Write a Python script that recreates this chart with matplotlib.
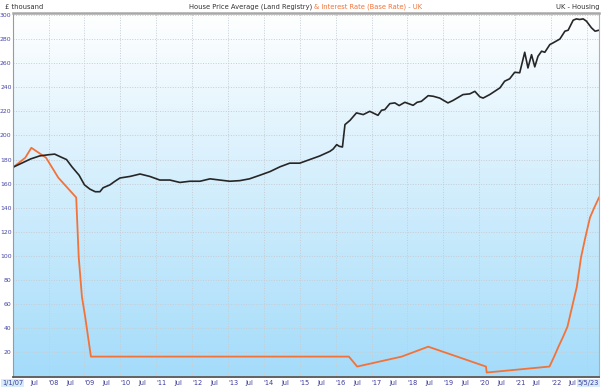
import matplotlib
matplotlib.use("Agg")
import matplotlib.pyplot as plt
import numpy as np
from matplotlib.colors import LinearSegmentedColormap

# ----------------------------------------------------------
# DATA (years as decimal years)
# ----------------------------------------------------------

house_years = [
    2007.00, 2007.25, 2007.50, 2007.75, 2008.00, 2008.17, 2008.35, 2008.50,
    2008.65, 2008.85, 2009.00, 2009.15, 2009.30, 2009.43, 2009.52, 2009.71,
    2009.85, 2009.99, 2010.27, 2010.55, 2010.82, 2011.10, 2011.38, 2011.66,
    2011.94, 2012.22, 2012.50, 2012.77, 2013.05, 2013.33, 2013.60, 2013.89,
    2014.17, 2014.45, 2014.72, 2015.00, 2015.28, 2015.56, 2015.84, 2015.93,
    2016.03, 2016.10, 2016.19, 2016.26, 2016.40, 2016.58, 2016.77, 2016.95,
    2017.18, 2017.28, 2017.37, 2017.51, 2017.65, 2017.77, 2017.93, 2018.16,
    2018.27, 2018.39, 2018.58, 2018.72, 2018.90, 2019.13, 2019.27, 2019.55,
    2019.74, 2019.88, 2020.02, 2020.11, 2020.30, 2020.58, 2020.71, 2020.85,
    2020.99, 2021.13, 2021.27, 2021.36, 2021.46, 2021.55, 2021.64, 2021.74,
    2021.83, 2021.97, 2022.06, 2022.25, 2022.39, 2022.48, 2022.62, 2022.71,
    2022.80, 2022.90, 2022.99, 2023.13, 2023.23, 2023.34,
]
house_price = [
    173.5, 177, 180.5, 183, 184, 184.5, 182, 180,
    174, 167, 159, 155.5, 153.3, 153.3, 156.6, 159,
    162, 164.7, 166, 168, 166, 163, 163, 161,
    162, 162, 164, 163, 162, 162.5, 164, 167,
    170, 174, 177, 177, 180, 183, 186.8, 188.7,
    192.4, 191, 190.4, 209, 212.5, 218.7, 217.3, 220,
    216.7, 220.9, 221.4, 226.4, 227, 224.8, 227.5, 225,
    227.5, 228.3, 233, 232.5, 231, 227, 229, 233.9,
    234.5, 236.6, 232, 231, 234, 239.5, 245, 247,
    252.4, 252, 269, 256, 267, 256.9, 265.7, 269.9,
    269, 275.4, 276.8, 280, 286.5, 287.3, 295.6, 296.7,
    296.2, 296.7, 294.8, 289.3, 286.5, 287.3,
]

rate_years = [
    2007.00, 2007.35, 2007.52, 2007.93, 2008.10, 2008.27, 2008.77, 2008.84,
    2008.93, 2009.02, 2009.10, 2009.18, 2016.37, 2016.60, 2017.84, 2018.58,
    2020.19, 2020.21, 2021.96, 2022.09, 2022.21, 2022.34, 2022.46, 2022.59,
    2022.72, 2022.84, 2022.96, 2023.09, 2023.21, 2023.34,
]
rate_plotted = [
    173.25, 181.5, 189.75, 181.5, 173.25, 165, 148.5, 99,
    66, 49.5, 33, 16.5, 16.5, 8.25, 16.5, 24.75,
    8.25, 3.3, 8.25, 16.5, 24.75, 33, 41.25, 57.75,
    74.25, 99, 115.5, 132, 140.25, 148.5,
]

x_start, x_end = 2007.0, 2023.34
y_ticks = list(range(20, 301, 20))

x_tick_pos = [2007.0]
x_tick_lab = ["1/1/07"]
for yr in range(2007, 2023):
    if yr > 2007:
        x_tick_pos.append(yr)
        x_tick_lab.append("'" + str(yr)[2:])
    x_tick_pos.append(yr + 0.496)
    x_tick_lab.append("Jul")
x_tick_pos.append(x_end)
x_tick_lab.append("5/5/23")

# ----------------------------------------------------------
# FIGURE
# ----------------------------------------------------------

W, H = 602, 388
fig = plt.figure(figsize=(W / 100, H / 100), dpi=100)
fig.patch.set_facecolor("white")

ax_l, ax_r, ax_t, ax_b = 12.7, 599, 12.5, 376.5
ax = fig.add_axes([ax_l / W, 1 - ax_b / H, (ax_r - ax_l) / W, (ax_b - ax_t) / H])

y_top = 302
ax.set_xlim(x_start, x_end)
ax.set_ylim(0, y_top)

# background gradient white -> light blue
cmap = LinearSegmentedColormap.from_list("bg", ["#a4dcfa", "#ffffff"])
grad = np.linspace(0, 1, 256).reshape(-1, 1)
ax.imshow(grad, extent=[x_start, x_end, 0, y_top], origin="lower",
          aspect="auto", cmap=cmap, zorder=0, interpolation="bicubic")

# grid
for v in y_ticks:
    ax.axhline(v, color="#c6cdd4", lw=0.7, ls=(0, (1, 1.6)), zorder=1)
for yr in range(2008, 2024):
    ax.axvline(yr, color="#c6cdd4", lw=0.7, ls=(0, (1, 1.6)), zorder=1)

ax.plot(rate_years, rate_plotted, color="#f2733a", lw=1.3, zorder=3)
ax.plot(house_years, house_price, color="#262626", lw=1.2, zorder=4)

ax.set_yticks(y_ticks)
ax.set_yticklabels([str(v) for v in y_ticks])
ax.tick_params(axis="y", length=0, pad=0.8, labelsize=4.4, labelcolor="#4646a8")

ax.set_xticks(x_tick_pos)
ax.set_xticklabels(x_tick_lab)
ax.tick_params(axis="x", length=0, pad=2.5, labelsize=4.8, labelcolor="#3c3c98")
labels = ax.get_xticklabels()
for lab in labels:
    lab.set_ha("left")
labels[0].set_ha("center")
labels[-1].set_ha("right")
for lab in (labels[0], labels[-1]):
    lab.set_bbox(dict(facecolor="#d6ebfb", edgecolor="none", pad=0.6))

for name in ("top", "bottom", "left", "right"):
    ax.spines[name].set_zorder(5)
ax.spines["top"].set_color("#a8a8a8")
ax.spines["top"].set_linewidth(1.8)
ax.spines["left"].set_color("#9a9a9a")
ax.spines["left"].set_linewidth(0.8)
ax.spines["right"].set_color("#b0b0b0")
ax.spines["right"].set_linewidth(0.8)
ax.spines["bottom"].set_color("#555555")
ax.spines["bottom"].set_linewidth(1.3)

# header texts
fs = 4.9
fig.text(5 / W, 1 - 7 / H, "£ thousand", fontsize=fs, color="#333333",
         ha="left", va="center")
fig.text(312 / W, 1 - 7 / H, "House Price Average (Land Registry)", fontsize=fs,
         color="#333333", ha="right", va="center")
fig.text(314 / W, 1 - 7 / H, "& Interest Rate (Base Rate) - UK", fontsize=fs,
         color="#f2733a", ha="left", va="center")
fig.text(600 / W, 1 - 7 / H, "UK - Housing", fontsize=fs, color="#333333",
         ha="right", va="center")

fig.savefig("out.png", dpi=100)
